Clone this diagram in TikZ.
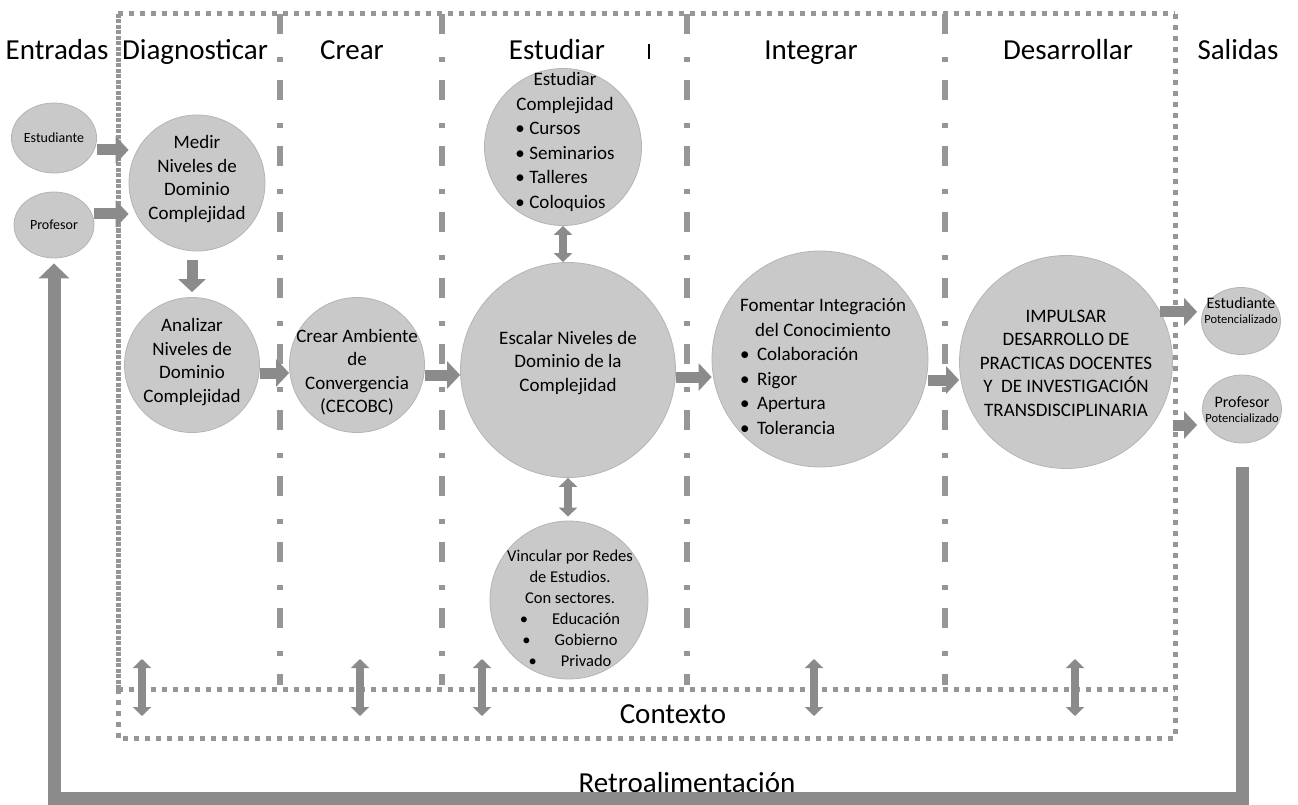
\documentclass[tikz,border=0pt]{standalone}
\usepackage{fontspec}
\setmainfont{Carlito}
\usetikzlibrary{arrows.meta,shapes.geometric}

\definecolor{blobgray}{RGB}{201,201,201}
\definecolor{rimgray}{RGB}{180,180,180}
\definecolor{arrgray}{RGB}{139,139,139}
\definecolor{linegray}{RGB}{150,150,150}

\begin{document}
\begin{tikzpicture}[x=1pt,y=-1pt,
    blob/.style={circle,fill=blobgray,draw=rimgray,line width=0.8pt,inner sep=0pt},
    oval/.style={ellipse,fill=blobgray,draw=rimgray,line width=0.8pt,inner sep=0pt,
      align=center,font=\fontsize{14}{16}\selectfont},
    txt/.style={align=center,inner sep=0pt,font=\fontsize{19}{23.5}\selectfont},
    title/.style={anchor=base,font=\fontsize{29}{31}\selectfont},
    barrow/.style={draw=arrgray,line width=11pt,-{Triangle[length=13pt,width=27pt]}},
    darrow/.style={draw=arrgray,line width=8pt,
      {Triangle[length=9pt,width=18pt]}-{Triangle[length=9pt,width=18pt]}},
    fbarrow/.style={draw=arrgray,line width=13pt,line join=miter,
      -{Triangle[length=15pt,width=30pt]}},
    dotline/.style={draw=linegray,line width=5pt,dash pattern=on 5pt off 6pt},
    divider/.style={draw=linegray,line width=6pt,dash pattern=on 20pt off 23pt on 5pt off 18pt}]
\useasboundingbox (0,0) rectangle (1298,805);

% frame and context band
\draw[dotline] (118,14) -- (1175,14);
\draw[dotline] (1175,14) -- (1175,738) -- (118,738);
\draw[dotline,dash pattern=on 4pt off 1.5pt] (118,14) -- (118,689);
\draw[dotline] (118,689) -- (118,738);
\draw[dotline] (118,689) -- (1175,689);
\foreach \x in {280,442,687,945}
  \draw[divider] (\x,14) -- (\x,685);
\draw[line width=1.2pt] (649,44) -- (649,59);

% titles
\node[title] (tentradas) at (57,60) {Entradas};
\node[title] (tdiag) at (195,60) {Diagnosticar};
\node[title] (tcrear) at (352,60) {Crear};
\node[title] (testud) at (557,60) {Estudiar};
\node[title] (tinteg) at (811,60) {Integrar};
\node[title] (tdesar) at (1068,60) {Desarrollar};
\node[title] (tsalidas) at (1238,60) {Salidas};
\node[title] (tcontexto) at (673,723) {Contexto};
\node[title] (tretro) at (687,792) {Retroalimentación};

% inputs
\node[oval,minimum width=82pt,minimum height=70pt] (estud) at (54,138) {Estudiante};
\node[oval,minimum width=80pt,minimum height=66pt] (prof) at (54,225) {Profesor};

% phases
\node[blob,minimum size=136pt] (medir) at (197,183) {};
\node[txt] (medir-t) at (197,179) {Medir\\Niveles de\\Dominio\\Complejidad};
\node[blob,minimum size=135pt] (analizar) at (192,365) {};
\node[txt] (analizar-t) at (192,362) {Analizar\\Niveles de\\Dominio\\Complejidad};
\node[blob,minimum size=135pt] (crear) at (357,365) {};
\node[txt] (crear-t) at (357,372) {Crear Ambiente\\de\\Convergencia\\(CECOBC)};
\node[blob,minimum size=157pt] (estcomp) at (563,147) {};
\node[txt,font=\fontsize{19}{24.5}\selectfont] (estcomp-t) at (565,142)
  {\begin{tabular}{@{}l@{}}
   \multicolumn{1}{@{}c@{}}{Estudiar}\\
   \multicolumn{1}{@{}c@{}}{Complejidad}\\
   \makebox[14pt][l]{\textbullet}Cursos\\
   \makebox[14pt][l]{\textbullet}Seminarios\\
   \makebox[14pt][l]{\textbullet}Talleres\\
   \makebox[14pt][l]{\textbullet}Coloquios
   \end{tabular}};
\node[blob,minimum size=215pt] (escalar) at (568,370) {};
\node[txt] (escalar-t) at (568,363) {Escalar Niveles de\\Dominio de la\\Complejidad};
\node[blob,minimum size=158pt] (vinc) at (569,600) {};
\node[txt,font=\fontsize{16.5}{21}\selectfont] (vinc-t) at (570,608)
  {Vincular por Redes\\de Estudios.\\Con sectores.\\
   \textbullet\hspace{24pt}Educación\\
   \textbullet\hspace{24pt}Gobierno\\
   \textbullet\hspace{24pt}Privado};
\node[blob,minimum size=216pt] (foment) at (820,359) {};
\node[txt,font=\fontsize{19}{24.6}\selectfont] (foment-t) at (823,368)
  {\begin{tabular}{@{}l@{}}
   \multicolumn{1}{@{}c@{}}{Fomentar Integración}\\
   \multicolumn{1}{@{}c@{}}{del Conocimiento}\\
   \makebox[17pt][l]{\textbullet}Colaboración\\
   \makebox[17pt][l]{\textbullet}Rigor\\
   \makebox[17pt][l]{\textbullet}Apertura\\
   \makebox[17pt][l]{\textbullet}Tolerancia
   \end{tabular}};
\node[blob,minimum size=213pt] (impulsar) at (1066,362) {};
\node[txt] (impulsar-t) at (1066,363)
  {IMPULSAR\\DESARROLLO DE\\PRACTICAS DOCENTES\\Y\ \ DE INVESTIGACIÓN\\TRANSDISCIPLINARIA};

% outputs
\node[oval,minimum width=79pt,minimum height=67pt] (estP) at (1241,321) {};
\node[txt,font=\fontsize{16}{15}\selectfont] (estP-t) at (1241,310)
  {Estudiante\\{\fontsize{12.5}{14}\selectfont Potencializado}};
\node[oval,minimum width=79pt,minimum height=68pt] (profP) at (1242,409) {};
\node[txt,font=\fontsize{16}{15}\selectfont] (profP-t) at (1242,410)
  {Profesor\\{\fontsize{12.5}{14}\selectfont Potencializado}};

% flow
\draw[barrow] ([yshift=-12pt]estud.east) -- ([yshift=-12pt]estud.east -| medir.west);
\draw[barrow] ([yshift=11pt]prof.east) -- ([yshift=11pt]prof.east -| medir.west);
\draw[barrow,shorten <=9pt,shorten >=5pt] (analizar.north |- medir.south) -- (analizar.north);
\draw[barrow] ([yshift=-8pt]analizar.east) -- ([yshift=-8pt]crear.west);
\draw[barrow] ([yshift=-10pt]crear.east) -- ([yshift=-10pt]crear.east -| escalar.west);
\draw[barrow] ([yshift=-7pt]escalar.east) -- ([yshift=-7pt]escalar.east -| foment.west);
\draw[barrow] ([yshift=-18pt]impulsar.west -| foment.east) -- ([yshift=-18pt]impulsar.west);
\draw[barrow,shorten >=4pt] (impulsar.28) -- (impulsar.28 -| estP.west);
\draw[barrow,shorten >=5pt] ([yshift=-63pt]impulsar.east) -- ([yshift=-63pt]impulsar.east -| profP.west);
\draw[darrow] (estcomp.south) -- (estcomp.south |- escalar.north);
\draw[darrow,shorten >=4pt] (escalar.south) -- (escalar.south |- vinc.north);

% context links
\foreach \x [count=\i] in {142,360,482,814,1075} {
  \coordinate (ctxtop\i) at (\x,659);
  \coordinate (ctxbot\i) at (\x,716);
  \draw[darrow] (ctxtop\i) -- (ctxbot\i);
}

% feedback
\coordinate (fbcorner) at (prof.south |- 0,798);
\draw[fbarrow,shorten <=24pt,shorten >=5pt] (profP.south) |- (fbcorner) -- (prof.south);
\end{tikzpicture}
\end{document}
